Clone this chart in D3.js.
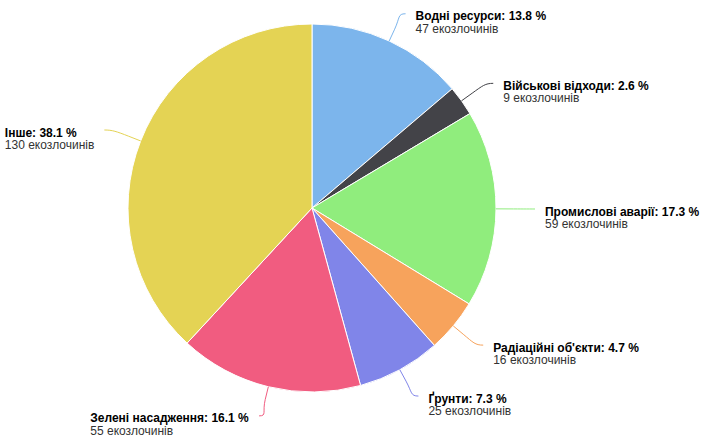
<!DOCTYPE html>
<html>
<head>
<meta charset="utf-8">
<script src="https://cdn.jsdelivr.net/npm/d3@7"></script>
<style>
  body { margin: 0; background: #fff; }
  text { font-family: "Liberation Sans", Arial, Helvetica, sans-serif; }
</style>
</head>
<body>
<div id="chart"></div>
<script>
var width = 701, height = 441;
var categories = ["Водні ресурси", "Військові відходи", "Промислові аварії", "Радіаційні об'єкти", "Ґрунти", "Зелені насадження", "Інше"];
var counts = [47, 9, 59, 16, 25, 55, 130];
var colors = ["#7cb5ec", "#434348", "#90ed7d", "#f7a35c", "#8085e9", "#f15c80", "#e4d354"];

var cx = 312, cy = 208, radius = 184,
    labelRx = radius + 39, labelRy = radius + 30, textPad = 10;

var total = d3.sum(counts);
var data = categories.map(function(c, i) { return { name: c, value: counts[i], color: colors[i] }; });

var svg = d3.select("#chart").append("svg")
    .attr("width", width)
    .attr("height", height);

var g = svg.append("g").attr("transform", "translate(" + cx + "," + cy + ")");

var pie = d3.pie().sort(null).value(function(d) { return d.value; });
var arc = d3.arc().innerRadius(0).outerRadius(radius);
var arcs = pie(data);

g.selectAll(".slice")
    .data(arcs)
    .enter().append("path")
    .attr("class", "slice")
    .attr("d", arc)
    .style("fill", function(d) { return d.data.color; })
    .style("stroke", "#fff")
    .style("stroke-width", 1);

function pt(a, rx, ry) { return [Math.sin(a) * rx, -Math.cos(a) * (ry === undefined ? rx : ry)]; }

var labels = g.selectAll(".lbl")
    .data(arcs)
    .enter().append("g")
    .attr("class", "lbl");

labels.each(function(d) {
    var mid = (d.startAngle + d.endAngle) / 2;
    var side = Math.sin(mid) >= 0 ? 1 : -1;
    var e = pt(mid, radius);
    var b = pt(mid, radius + 13);
    var a = pt(mid, labelRx, labelRy);
    var sel = d3.select(this);

    sel.append("path")
        .attr("d", "M" + a[0] + "," + a[1] +
            "C" + (a[0] - side * 8) + "," + a[1] + " " +
            (2 * b[0] - e[0]) + "," + (2 * b[1] - e[1]) + " " +
            b[0] + "," + b[1] + "L" + e[0] + "," + e[1])
        .style("fill", "none")
        .style("stroke", d.data.color)
        .style("stroke-width", 1);

    var t = sel.append("text")
        .attr("y", a[1] + 6.5)
        .style("font-size", "12px");
    t.append("tspan")
        .attr("x", 0)
        .style("font-weight", "bold")
        .style("fill", "#000")
        .text(d.data.name + ": " + (d.data.value / total * 100).toFixed(1) + " %");
    t.append("tspan")
        .attr("x", 0)
        .attr("dy", 12.5)
        .style("fill", "#333")
        .text(d.data.value + " екозлочинів");

    var w = t.node().getBBox().width;
    var x0 = side > 0 ? a[0] + textPad : a[0] - textPad - w;
    t.attr("transform", "translate(" + x0 + ",0)");
});
</script>
</body>
</html>
